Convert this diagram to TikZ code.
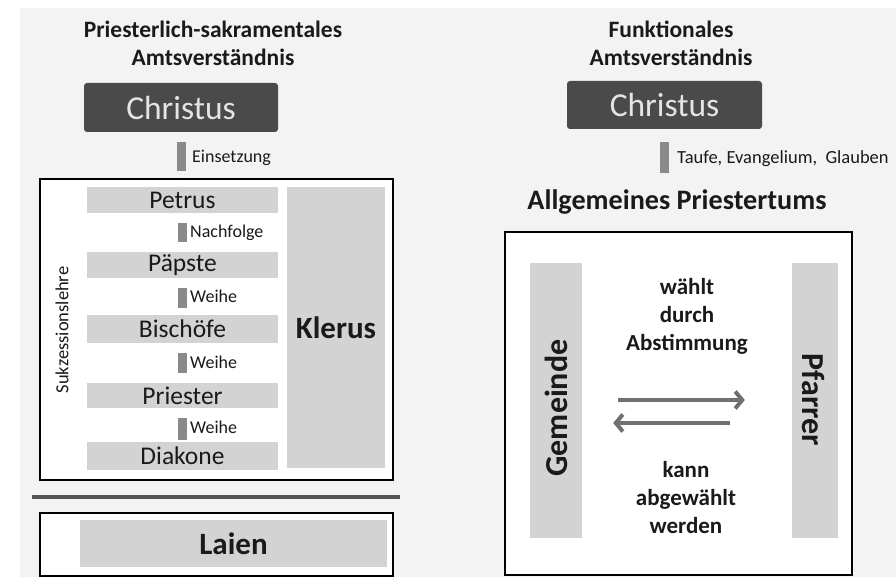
\documentclass[tikz,border=0pt]{standalone}
\usepackage{fontspec}
\setmainfont{Carlito}
\usetikzlibrary{arrows.meta}
\definecolor{bgc}{HTML}{F3F3F3}
\definecolor{barc}{HTML}{D3D3D3}
\definecolor{chrc}{HTML}{4A4A4A}
\definecolor{chrtext}{HTML}{E4E4E4}
\definecolor{connc}{HTML}{8A8A8A}
\definecolor{arrc}{HTML}{707070}
\definecolor{sepc}{HTML}{555555}
\definecolor{txtc}{HTML}{1A1A1A}
\begin{document}
\begin{tikzpicture}[x=1pt,y=-1pt,
  bar/.style={fill=barc, inner sep=0pt, text=txtc},
  barfont/.style={font=\fontsize{25.5}{30}\selectfont},
  frame/.style={draw=black, line width=2.5pt, fill=white, inner sep=0pt},
  chr/.style={fill=chrc, rounded corners=3pt, text=chrtext, font=\fontsize{33.5}{38}\selectfont, minimum width=194pt, minimum height=49pt, inner sep=0pt},
  conn/.style={draw=connc, line width=9pt},
  lbl/.style={font=\fontsize{18}{21}\selectfont, anchor=base west, inner sep=0pt, text=txtc},
  ttl/.style={font=\fontsize{23.5}{28}\selectfont\bfseries, align=center, text=txtc},
  bigbold/.style={font=\fontsize{31}{36}\selectfont\bfseries, text=txtc},
  rotbold/.style={font=\fontsize{32}{36}\selectfont\bfseries, text=txtc},
  midbold/.style={font=\fontsize{23}{28}\selectfont\bfseries, align=center, text=txtc},
  arr/.style={draw=arrc, line width=4pt, -{Straight Barb[length=7pt,width=17pt]}},
  sepline/.style={draw=sepc, line width=4pt},
]
\useasboundingbox (0,0) rectangle (896,577);
\fill[bgc] (20,8) rectangle (896,577);

% ---------------- left ----------------
\node[ttl] (titleL) at (213,43) {Priesterlich-sakramentales\\Amtsverständnis};
\node[chr] (christusL) at (181,107.5) {Christus};

\node[frame, minimum width=353pt, minimum height=301pt] (mainL) at (216.5,329.5) {};
\node[bar, barfont, minimum width=191pt, minimum height=26pt] (petrus) at (182.5,200) {Petrus};
\node[bar, barfont, minimum width=191pt, minimum height=26pt] (paepste) at (182.5,265) {Päpste};
\node[bar, barfont, minimum width=191pt, minimum height=28pt] (bischoefe) at (182.5,329) {Bischöfe};
\node[bar, barfont, minimum width=191pt, minimum height=25pt] (priester) at (182.5,395.5) {Priester};
\node[bar, barfont, minimum width=191pt, minimum height=28pt] (diakone) at (182.5,456) {Diakone};
\node[bar, bigbold, minimum width=98pt, minimum height=281pt] (klerus) at (336,327.5) {Klerus};
\node[rotate=90, font=\fontsize{18.5}{21}\selectfont, text=txtc] (sukz) at (62,330) {Sukzessionslehre};

\draw[conn, shorten <=10pt, shorten >=7pt] (christusL.south) -- (christusL.south |- mainL.north);
\node[lbl] (einsetzung) at (192,163) {Einsetzung};
\draw[conn, shorten <=10pt, shorten >=10pt] (petrus.south) -- (paepste.north);
\node[lbl] (nachfolge) at (190,237) {Nachfolge};
\draw[conn, shorten <=10pt, shorten >=7pt] (paepste.south) -- (bischoefe.north);
\node[lbl] (weihe1) at (190,302) {Weihe};
\draw[conn, shorten <=10pt, shorten >=10pt] (bischoefe.south) -- (priester.north);
\node[lbl] (weihe2) at (190,368) {Weihe};
\draw[conn, shorten <=10pt, shorten >=2pt] (priester.south) -- (diakone.north);
\node[lbl] (weihe3) at (190,433) {Weihe};

\draw[sepline] (32,497) -- (400,497);

\node[frame, minimum width=353pt, minimum height=63pt] (laienbox) at (216.5,544.5) {};
\node[bar, bigbold, minimum width=307pt, minimum height=47pt] (laien) at (233.5,543.5) {Laien};

% ---------------- right ----------------
\node[ttl] (titleR) at (671,43) {Funktionales\\Amtsverständnis};
\node[chr, minimum width=195pt, minimum height=48pt] (christusR) at (664.5,105) {Christus};
\node[font=\fontsize{28.2}{32}\selectfont\bfseries, anchor=base, inner sep=0pt, text=txtc] (allg) at (677,210) {Allgemeines Priestertums};
\draw[conn, shorten <=13pt, shorten >=17pt] (christusR.south) -- (christusR.south |- allg.north);
\node[lbl, font=\fontsize{18.5}{21}\selectfont] (taufe) at (677,164) {Taufe, Evangelium,\ \ Glauben};

\node[frame, minimum width=347pt, minimum height=343pt] (boxR) at (678.5,403.5) {};
\node[bar, minimum width=52pt, minimum height=275pt] (gemeinde) at (556,400.5) {};
\node[bar, minimum width=46pt, minimum height=275pt] (pfarrer) at (815,400.5) {};
\node[rotate=90, rotbold] (gemeindeT) at (556,408) {Gemeinde};
\node[rotate=-90, rotbold] (pfarrerT) at (813,400) {Pfarrer};

\node[midbold] (waehlt) at (687,316) {wählt\\durch\\Abstimmung};
\node[midbold] (kann) at (686,498) {kann\\abgewählt\\werden};

\coordinate (ya) at (0,400);
\coordinate (yb) at (0,423);
\draw[arr, shorten <=36pt, shorten >=47pt] (gemeinde.east |- ya) -- (pfarrer.west |- ya);
\draw[arr, shorten <=62pt, shorten >=31pt] (pfarrer.west |- yb) -- (gemeinde.east |- yb);
\end{tikzpicture}
\end{document}
